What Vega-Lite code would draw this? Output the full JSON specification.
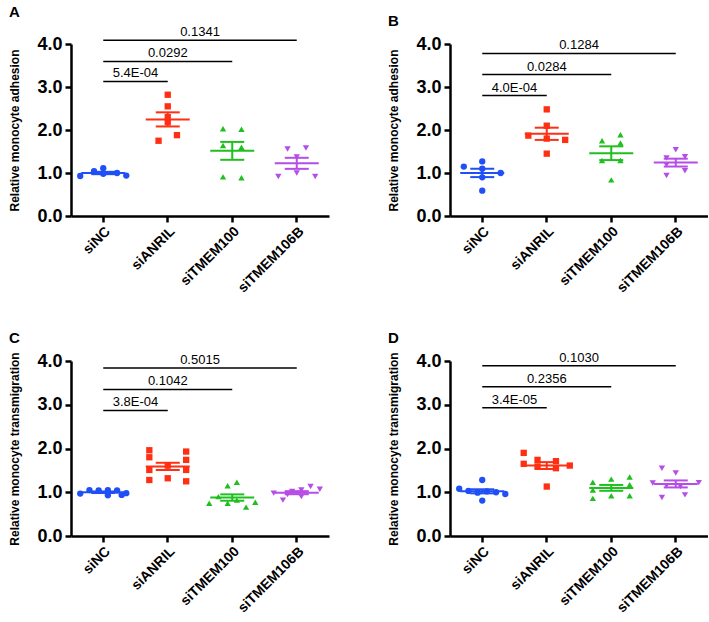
{
"$schema":"https://vega.github.io/schema/vega-lite/v6.json",
"padding":{"left":8,"top":5,"right":0,"bottom":0},
"datasets":{
"pts":[
{"p":"A","g":"siNC","v":0.93,"s":-5},{"p":"A","g":"siNC","v":1.04,"s":-2},{"p":"A","g":"siNC","v":1.11,"s":0},{"p":"A","g":"siNC","v":0.98,"s":0},{"p":"A","g":"siNC","v":1.00,"s":3},{"p":"A","g":"siNC","v":0.94,"s":5},
{"p":"A","g":"siANRIL","v":2.82,"s":0},{"p":"A","g":"siANRIL","v":2.55,"s":0},{"p":"A","g":"siANRIL","v":2.30,"s":0},{"p":"A","g":"siANRIL","v":2.18,"s":0},{"p":"A","g":"siANRIL","v":1.88,"s":2},{"p":"A","g":"siANRIL","v":1.75,"s":-2},
{"p":"A","g":"siTMEM100","v":2.03,"s":-2},{"p":"A","g":"siTMEM100","v":2.02,"s":2},{"p":"A","g":"siTMEM100","v":1.64,"s":-2},{"p":"A","g":"siTMEM100","v":1.60,"s":2},{"p":"A","g":"siTMEM100","v":0.91,"s":-2},{"p":"A","g":"siTMEM100","v":0.89,"s":2},
{"p":"A","g":"siTMEM106B","v":1.56,"s":-2},{"p":"A","g":"siTMEM106B","v":1.58,"s":2},{"p":"A","g":"siTMEM106B","v":1.37,"s":0},{"p":"A","g":"siTMEM106B","v":1.00,"s":0},{"p":"A","g":"siTMEM106B","v":0.92,"s":-4},{"p":"A","g":"siTMEM106B","v":0.92,"s":4},
{"p":"B","g":"siNC","v":1.27,"s":0},{"p":"B","g":"siNC","v":1.15,"s":-4},{"p":"B","g":"siNC","v":1.10,"s":0},{"p":"B","g":"siNC","v":1.00,"s":4},{"p":"B","g":"siNC","v":0.90,"s":0},{"p":"B","g":"siNC","v":0.59,"s":0},
{"p":"B","g":"siANRIL","v":2.48,"s":0},{"p":"B","g":"siANRIL","v":2.10,"s":0},{"p":"B","g":"siANRIL","v":1.87,"s":-4},{"p":"B","g":"siANRIL","v":1.80,"s":0},{"p":"B","g":"siANRIL","v":1.77,"s":4},{"p":"B","g":"siANRIL","v":1.45,"s":0},
{"p":"B","g":"siTMEM100","v":1.89,"s":2},{"p":"B","g":"siTMEM100","v":1.75,"s":-2},{"p":"B","g":"siTMEM100","v":1.70,"s":2},{"p":"B","g":"siTMEM100","v":1.29,"s":-2},{"p":"B","g":"siTMEM100","v":1.29,"s":2},{"p":"B","g":"siTMEM100","v":0.84,"s":0},
{"p":"B","g":"siTMEM106B","v":1.54,"s":0},{"p":"B","g":"siTMEM106B","v":1.38,"s":2},{"p":"B","g":"siTMEM106B","v":1.35,"s":-2},{"p":"B","g":"siTMEM106B","v":1.19,"s":-2},{"p":"B","g":"siTMEM106B","v":1.05,"s":2},{"p":"B","g":"siTMEM106B","v":0.94,"s":-2},
{"p":"C","g":"siNC","v":0.97,"s":-5},{"p":"C","g":"siNC","v":1.05,"s":-3},{"p":"C","g":"siNC","v":1.04,"s":-1},{"p":"C","g":"siNC","v":1.05,"s":1},{"p":"C","g":"siNC","v":0.93,"s":1},{"p":"C","g":"siNC","v":1.04,"s":3},{"p":"C","g":"siNC","v":0.94,"s":4},{"p":"C","g":"siNC","v":0.98,"s":5},
{"p":"C","g":"siANRIL","v":1.96,"s":-4},{"p":"C","g":"siANRIL","v":1.80,"s":-4},{"p":"C","g":"siANRIL","v":1.51,"s":-4},{"p":"C","g":"siANRIL","v":1.28,"s":-4},{"p":"C","g":"siANRIL","v":1.61,"s":0},{"p":"C","g":"siANRIL","v":1.32,"s":0},{"p":"C","g":"siANRIL","v":1.93,"s":4},{"p":"C","g":"siANRIL","v":1.74,"s":4},{"p":"C","g":"siANRIL","v":1.51,"s":4},{"p":"C","g":"siANRIL","v":1.25,"s":4},
{"p":"C","g":"siTMEM100","v":0.75,"s":-5},{"p":"C","g":"siTMEM100","v":0.90,"s":-3},{"p":"C","g":"siTMEM100","v":0.75,"s":-1},{"p":"C","g":"siTMEM100","v":1.15,"s":-1},{"p":"C","g":"siTMEM100","v":1.23,"s":1},{"p":"C","g":"siTMEM100","v":0.82,"s":1},{"p":"C","g":"siTMEM100","v":0.66,"s":3},{"p":"C","g":"siTMEM100","v":0.77,"s":5},
{"p":"C","g":"siTMEM106B","v":0.98,"s":-5},{"p":"C","g":"siTMEM106B","v":0.82,"s":-3},{"p":"C","g":"siTMEM106B","v":1.02,"s":-1},{"p":"C","g":"siTMEM106B","v":1.05,"s":1},{"p":"C","g":"siTMEM106B","v":0.90,"s":1},{"p":"C","g":"siTMEM106B","v":1.13,"s":3},{"p":"C","g":"siTMEM106B","v":1.07,"s":5},{"p":"C","g":"siTMEM106B","v":0.95,"s":-2},
{"p":"D","g":"siNC","v":1.28,"s":0},{"p":"D","g":"siNC","v":1.08,"s":-5},{"p":"D","g":"siNC","v":1.03,"s":-3},{"p":"D","g":"siNC","v":1.00,"s":3},{"p":"D","g":"siNC","v":0.96,"s":5},{"p":"D","g":"siNC","v":0.81,"s":0},{"p":"D","g":"siNC","v":0.99,"s":-1},{"p":"D","g":"siNC","v":1.02,"s":1},
{"p":"D","g":"siANRIL","v":1.90,"s":-5},{"p":"D","g":"siANRIL","v":1.65,"s":-5},{"p":"D","g":"siANRIL","v":1.74,"s":-2},{"p":"D","g":"siANRIL","v":1.59,"s":-2},{"p":"D","g":"siANRIL","v":1.71,"s":2},{"p":"D","g":"siANRIL","v":1.55,"s":2},{"p":"D","g":"siANRIL","v":1.61,"s":5},{"p":"D","g":"siANRIL","v":1.13,"s":0},
{"p":"D","g":"siTMEM100","v":1.23,"s":-4},{"p":"D","g":"siTMEM100","v":1.05,"s":-4},{"p":"D","g":"siTMEM100","v":0.86,"s":-4},{"p":"D","g":"siTMEM100","v":1.30,"s":0},{"p":"D","g":"siTMEM100","v":0.92,"s":0},{"p":"D","g":"siTMEM100","v":1.35,"s":4},{"p":"D","g":"siTMEM100","v":1.17,"s":4},{"p":"D","g":"siTMEM100","v":0.92,"s":4},
{"p":"D","g":"siTMEM106B","v":1.55,"s":-3},{"p":"D","g":"siTMEM106B","v":0.88,"s":-3},{"p":"D","g":"siTMEM106B","v":1.44,"s":0},{"p":"D","g":"siTMEM106B","v":1.21,"s":-5},{"p":"D","g":"siTMEM106B","v":1.15,"s":-2},{"p":"D","g":"siTMEM106B","v":1.13,"s":1},{"p":"D","g":"siTMEM106B","v":1.22,"s":5},{"p":"D","g":"siTMEM106B","v":0.94,"s":2}
],
"sig":[
{"p":"A","from":"siNC","to":"siANRIL","y":3.13,"label":"5.4E-04","mid":"siNC","edge":1},
{"p":"A","from":"siNC","to":"siTMEM100","y":3.595,"label":"0.0292","mid":"siANRIL","edge":0},
{"p":"A","from":"siNC","to":"siTMEM106B","y":4.09,"label":"0.1341","mid":"siANRIL","edge":1},
{"p":"B","from":"siNC","to":"siANRIL","y":2.80,"label":"4.0E-04","mid":"siNC","edge":1},
{"p":"B","from":"siNC","to":"siTMEM100","y":3.29,"label":"0.0284","mid":"siANRIL","edge":0},
{"p":"B","from":"siNC","to":"siTMEM106B","y":3.78,"label":"0.1284","mid":"siANRIL","edge":1},
{"p":"C","from":"siNC","to":"siANRIL","y":2.87,"label":"3.8E-04","mid":"siNC","edge":1},
{"p":"C","from":"siNC","to":"siTMEM100","y":3.35,"label":"0.1042","mid":"siANRIL","edge":0},
{"p":"C","from":"siNC","to":"siTMEM106B","y":3.84,"label":"0.5015","mid":"siANRIL","edge":1},
{"p":"D","from":"siNC","to":"siANRIL","y":2.93,"label":"3.4E-05","mid":"siNC","edge":1},
{"p":"D","from":"siNC","to":"siTMEM100","y":3.41,"label":"0.2356","mid":"siANRIL","edge":0},
{"p":"D","from":"siNC","to":"siTMEM106B","y":3.89,"label":"0.1030","mid":"siANRIL","edge":1}
]
},
"columns":2,
"spacing":{"column":58,"row":35},
"concat":[
{"width":258,"height":172,
 "title":{"text":"A","anchor":"start","frame":"bounds","fontSize":15,"fontWeight":"bold","offset":6},
 "layer":[
  {"data":{"name":"pts"},"transform":[{"filter":"datum.p=='A'"}],
   "mark":{"type":"point","filled":true,"opacity":1,"size":40},
   "encoding":{
    "x":{"field":"g","type":"nominal","scale":{"type":"band","domain":["siNC","siANRIL","siTMEM100","siTMEM106B"],"paddingInner":0,"paddingOuter":0},"axis":{"title":null,"labelAngle":-45}},
    "xOffset":{"field":"s","type":"ordinal","scale":{"domain":[-6,-5,-4,-3,-2,-1,0,1,2,3,4,5,6],"paddingInner":0,"paddingOuter":2.7}},
    "y":{"field":"v","type":"quantitative","scale":{"domain":[0,4],"nice":false},"axis":{"title":"Relative monocyte adhesion","values":[0,1,2,3,4],"format":".1f"}},
    "color":{"field":"g","type":"nominal","scale":{"domain":["siNC","siANRIL","siTMEM100","siTMEM106B"],"range":["#1f4ff5","#ff2f14","#1fbf1f","#b54de6"]},"legend":null},
    "shape":{"field":"g","type":"nominal","scale":{"domain":["siNC","siANRIL","siTMEM100","siTMEM106B"],"range":["circle","square","triangle-up","triangle-down"]},"legend":null}}},
  {"data":{"name":"pts"},"transform":[{"filter":"datum.p=='A'"},{"aggregate":[{"op":"mean","field":"v","as":"m"},{"op":"stderr","field":"v","as":"se"}],"groupby":["g"]},{"calculate":"datum.m-datum.se","as":"lo"},{"calculate":"datum.m+datum.se","as":"hi"}],
   "layer":[
    {"mark":{"type":"tick","size":44,"thickness":2,"opacity":1},"encoding":{"x":{"field":"g","type":"nominal"},"y":{"field":"m","type":"quantitative"},"color":{"field":"g","type":"nominal"}}},
    {"mark":{"type":"rule","strokeWidth":2},"encoding":{"x":{"field":"g","type":"nominal"},"y":{"field":"lo","type":"quantitative"},"y2":{"field":"hi"},"color":{"field":"g","type":"nominal"}}},
    {"mark":{"type":"tick","size":24,"thickness":2,"opacity":1},"encoding":{"x":{"field":"g","type":"nominal"},"y":{"field":"lo","type":"quantitative"},"color":{"field":"g","type":"nominal"}}},
    {"mark":{"type":"tick","size":24,"thickness":2,"opacity":1},"encoding":{"x":{"field":"g","type":"nominal"},"y":{"field":"hi","type":"quantitative"},"color":{"field":"g","type":"nominal"}}}
   ]},
  {"data":{"name":"sig"},"transform":[{"filter":"datum.p=='A'"}],"mark":{"type":"rule","strokeWidth":1.5,"color":"black"},
   "encoding":{"x":{"field":"from","type":"nominal","bandPosition":0.5},"x2":{"field":"to","bandPosition":0.5},"y":{"field":"y","type":"quantitative"}}},
  {"data":{"name":"sig"},"transform":[{"filter":"datum.p=='A' && datum.edge==1"}],"mark":{"type":"text","fontSize":13,"dy":-4,"baseline":"alphabetic","color":"black"},
   "encoding":{"x":{"field":"mid","type":"nominal","bandPosition":1},"y":{"field":"y","type":"quantitative"},"text":{"field":"label"}}},
  {"data":{"name":"sig"},"transform":[{"filter":"datum.p=='A' && datum.edge==0"}],"mark":{"type":"text","fontSize":13,"dy":-4,"baseline":"alphabetic","color":"black"},
   "encoding":{"x":{"field":"mid","type":"nominal","bandPosition":0.5},"y":{"field":"y","type":"quantitative"},"text":{"field":"label"}}}
 ]},
{"width":258,"height":172,
 "title":{"text":"B","anchor":"start","frame":"bounds","fontSize":15,"fontWeight":"bold","offset":6},
 "layer":[
  {"data":{"name":"pts"},"transform":[{"filter":"datum.p=='B'"}],
   "mark":{"type":"point","filled":true,"opacity":1,"size":40},
   "encoding":{
    "x":{"field":"g","type":"nominal","scale":{"type":"band","domain":["siNC","siANRIL","siTMEM100","siTMEM106B"],"paddingInner":0,"paddingOuter":0},"axis":{"title":null,"labelAngle":-45}},
    "xOffset":{"field":"s","type":"ordinal","scale":{"domain":[-6,-5,-4,-3,-2,-1,0,1,2,3,4,5,6],"paddingInner":0,"paddingOuter":2.7}},
    "y":{"field":"v","type":"quantitative","scale":{"domain":[0,4],"nice":false},"axis":{"title":"Relative monocyte adhesion","values":[0,1,2,3,4],"format":".1f"}},
    "color":{"field":"g","type":"nominal","scale":{"domain":["siNC","siANRIL","siTMEM100","siTMEM106B"],"range":["#1f4ff5","#ff2f14","#1fbf1f","#b54de6"]},"legend":null},
    "shape":{"field":"g","type":"nominal","scale":{"domain":["siNC","siANRIL","siTMEM100","siTMEM106B"],"range":["circle","square","triangle-up","triangle-down"]},"legend":null}}},
  {"data":{"name":"pts"},"transform":[{"filter":"datum.p=='B'"},{"aggregate":[{"op":"mean","field":"v","as":"m"},{"op":"stderr","field":"v","as":"se"}],"groupby":["g"]},{"calculate":"datum.m-datum.se","as":"lo"},{"calculate":"datum.m+datum.se","as":"hi"}],
   "layer":[
    {"mark":{"type":"tick","size":44,"thickness":2,"opacity":1},"encoding":{"x":{"field":"g","type":"nominal"},"y":{"field":"m","type":"quantitative"},"color":{"field":"g","type":"nominal"}}},
    {"mark":{"type":"rule","strokeWidth":2},"encoding":{"x":{"field":"g","type":"nominal"},"y":{"field":"lo","type":"quantitative"},"y2":{"field":"hi"},"color":{"field":"g","type":"nominal"}}},
    {"mark":{"type":"tick","size":24,"thickness":2,"opacity":1},"encoding":{"x":{"field":"g","type":"nominal"},"y":{"field":"lo","type":"quantitative"},"color":{"field":"g","type":"nominal"}}},
    {"mark":{"type":"tick","size":24,"thickness":2,"opacity":1},"encoding":{"x":{"field":"g","type":"nominal"},"y":{"field":"hi","type":"quantitative"},"color":{"field":"g","type":"nominal"}}}
   ]},
  {"data":{"name":"sig"},"transform":[{"filter":"datum.p=='B'"}],"mark":{"type":"rule","strokeWidth":1.5,"color":"black"},
   "encoding":{"x":{"field":"from","type":"nominal","bandPosition":0.5},"x2":{"field":"to","bandPosition":0.5},"y":{"field":"y","type":"quantitative"}}},
  {"data":{"name":"sig"},"transform":[{"filter":"datum.p=='B' && datum.edge==1"}],"mark":{"type":"text","fontSize":13,"dy":-4,"baseline":"alphabetic","color":"black"},
   "encoding":{"x":{"field":"mid","type":"nominal","bandPosition":1},"y":{"field":"y","type":"quantitative"},"text":{"field":"label"}}},
  {"data":{"name":"sig"},"transform":[{"filter":"datum.p=='B' && datum.edge==0"}],"mark":{"type":"text","fontSize":13,"dy":-4,"baseline":"alphabetic","color":"black"},
   "encoding":{"x":{"field":"mid","type":"nominal","bandPosition":0.5},"y":{"field":"y","type":"quantitative"},"text":{"field":"label"}}}
 ]},
{"width":258,"height":175,
 "title":{"text":"C","anchor":"start","frame":"bounds","fontSize":15,"fontWeight":"bold","offset":6},
 "layer":[
  {"data":{"name":"pts"},"transform":[{"filter":"datum.p=='C'"}],
   "mark":{"type":"point","filled":true,"opacity":1,"size":40},
   "encoding":{
    "x":{"field":"g","type":"nominal","scale":{"type":"band","domain":["siNC","siANRIL","siTMEM100","siTMEM106B"],"paddingInner":0,"paddingOuter":0},"axis":{"title":null,"labelAngle":-45}},
    "xOffset":{"field":"s","type":"ordinal","scale":{"domain":[-6,-5,-4,-3,-2,-1,0,1,2,3,4,5,6],"paddingInner":0,"paddingOuter":2.7}},
    "y":{"field":"v","type":"quantitative","scale":{"domain":[0,4],"nice":false},"axis":{"title":"Relative monocyte transmigration","values":[0,1,2,3,4],"format":".1f"}},
    "color":{"field":"g","type":"nominal","scale":{"domain":["siNC","siANRIL","siTMEM100","siTMEM106B"],"range":["#1f4ff5","#ff2f14","#1fbf1f","#b54de6"]},"legend":null},
    "shape":{"field":"g","type":"nominal","scale":{"domain":["siNC","siANRIL","siTMEM100","siTMEM106B"],"range":["circle","square","triangle-up","triangle-down"]},"legend":null}}},
  {"data":{"name":"pts"},"transform":[{"filter":"datum.p=='C'"},{"aggregate":[{"op":"mean","field":"v","as":"m"},{"op":"stderr","field":"v","as":"se"}],"groupby":["g"]},{"calculate":"datum.m-datum.se","as":"lo"},{"calculate":"datum.m+datum.se","as":"hi"}],
   "layer":[
    {"mark":{"type":"tick","size":44,"thickness":2,"opacity":1},"encoding":{"x":{"field":"g","type":"nominal"},"y":{"field":"m","type":"quantitative"},"color":{"field":"g","type":"nominal"}}},
    {"mark":{"type":"rule","strokeWidth":2},"encoding":{"x":{"field":"g","type":"nominal"},"y":{"field":"lo","type":"quantitative"},"y2":{"field":"hi"},"color":{"field":"g","type":"nominal"}}},
    {"mark":{"type":"tick","size":24,"thickness":2,"opacity":1},"encoding":{"x":{"field":"g","type":"nominal"},"y":{"field":"lo","type":"quantitative"},"color":{"field":"g","type":"nominal"}}},
    {"mark":{"type":"tick","size":24,"thickness":2,"opacity":1},"encoding":{"x":{"field":"g","type":"nominal"},"y":{"field":"hi","type":"quantitative"},"color":{"field":"g","type":"nominal"}}}
   ]},
  {"data":{"name":"sig"},"transform":[{"filter":"datum.p=='C'"}],"mark":{"type":"rule","strokeWidth":1.5,"color":"black"},
   "encoding":{"x":{"field":"from","type":"nominal","bandPosition":0.5},"x2":{"field":"to","bandPosition":0.5},"y":{"field":"y","type":"quantitative"}}},
  {"data":{"name":"sig"},"transform":[{"filter":"datum.p=='C' && datum.edge==1"}],"mark":{"type":"text","fontSize":13,"dy":-4,"baseline":"alphabetic","color":"black"},
   "encoding":{"x":{"field":"mid","type":"nominal","bandPosition":1},"y":{"field":"y","type":"quantitative"},"text":{"field":"label"}}},
  {"data":{"name":"sig"},"transform":[{"filter":"datum.p=='C' && datum.edge==0"}],"mark":{"type":"text","fontSize":13,"dy":-4,"baseline":"alphabetic","color":"black"},
   "encoding":{"x":{"field":"mid","type":"nominal","bandPosition":0.5},"y":{"field":"y","type":"quantitative"},"text":{"field":"label"}}}
 ]},
{"width":258,"height":175,
 "title":{"text":"D","anchor":"start","frame":"bounds","fontSize":15,"fontWeight":"bold","offset":6},
 "layer":[
  {"data":{"name":"pts"},"transform":[{"filter":"datum.p=='D'"}],
   "mark":{"type":"point","filled":true,"opacity":1,"size":40},
   "encoding":{
    "x":{"field":"g","type":"nominal","scale":{"type":"band","domain":["siNC","siANRIL","siTMEM100","siTMEM106B"],"paddingInner":0,"paddingOuter":0},"axis":{"title":null,"labelAngle":-45}},
    "xOffset":{"field":"s","type":"ordinal","scale":{"domain":[-6,-5,-4,-3,-2,-1,0,1,2,3,4,5,6],"paddingInner":0,"paddingOuter":2.7}},
    "y":{"field":"v","type":"quantitative","scale":{"domain":[0,4],"nice":false},"axis":{"title":"Relative monocyte transmigration","values":[0,1,2,3,4],"format":".1f"}},
    "color":{"field":"g","type":"nominal","scale":{"domain":["siNC","siANRIL","siTMEM100","siTMEM106B"],"range":["#1f4ff5","#ff2f14","#1fbf1f","#b54de6"]},"legend":null},
    "shape":{"field":"g","type":"nominal","scale":{"domain":["siNC","siANRIL","siTMEM100","siTMEM106B"],"range":["circle","square","triangle-up","triangle-down"]},"legend":null}}},
  {"data":{"name":"pts"},"transform":[{"filter":"datum.p=='D'"},{"aggregate":[{"op":"mean","field":"v","as":"m"},{"op":"stderr","field":"v","as":"se"}],"groupby":["g"]},{"calculate":"datum.m-datum.se","as":"lo"},{"calculate":"datum.m+datum.se","as":"hi"}],
   "layer":[
    {"mark":{"type":"tick","size":44,"thickness":2,"opacity":1},"encoding":{"x":{"field":"g","type":"nominal"},"y":{"field":"m","type":"quantitative"},"color":{"field":"g","type":"nominal"}}},
    {"mark":{"type":"rule","strokeWidth":2},"encoding":{"x":{"field":"g","type":"nominal"},"y":{"field":"lo","type":"quantitative"},"y2":{"field":"hi"},"color":{"field":"g","type":"nominal"}}},
    {"mark":{"type":"tick","size":24,"thickness":2,"opacity":1},"encoding":{"x":{"field":"g","type":"nominal"},"y":{"field":"lo","type":"quantitative"},"color":{"field":"g","type":"nominal"}}},
    {"mark":{"type":"tick","size":24,"thickness":2,"opacity":1},"encoding":{"x":{"field":"g","type":"nominal"},"y":{"field":"hi","type":"quantitative"},"color":{"field":"g","type":"nominal"}}}
   ]},
  {"data":{"name":"sig"},"transform":[{"filter":"datum.p=='D'"}],"mark":{"type":"rule","strokeWidth":1.5,"color":"black"},
   "encoding":{"x":{"field":"from","type":"nominal","bandPosition":0.5},"x2":{"field":"to","bandPosition":0.5},"y":{"field":"y","type":"quantitative"}}},
  {"data":{"name":"sig"},"transform":[{"filter":"datum.p=='D' && datum.edge==1"}],"mark":{"type":"text","fontSize":13,"dy":-4,"baseline":"alphabetic","color":"black"},
   "encoding":{"x":{"field":"mid","type":"nominal","bandPosition":1},"y":{"field":"y","type":"quantitative"},"text":{"field":"label"}}},
  {"data":{"name":"sig"},"transform":[{"filter":"datum.p=='D' && datum.edge==0"}],"mark":{"type":"text","fontSize":13,"dy":-4,"baseline":"alphabetic","color":"black"},
   "encoding":{"x":{"field":"mid","type":"nominal","bandPosition":0.5},"y":{"field":"y","type":"quantitative"},"text":{"field":"label"}}}
 ]}
],
"config":{
 "font":"Liberation Sans",
 "view":{"stroke":null},
 "title":{"font":"Liberation Sans","color":"black"},
 "axis":{"grid":false,"domainColor":"black","domainWidth":2.5,"tickColor":"black","tickWidth":2.5,"tickSize":6,"labelColor":"black","labelFont":"Liberation Sans","labelFontWeight":"bold","labelPadding":3,"titleFont":"Liberation Sans","titleFontSize":12,"titleFontWeight":"bold","titleColor":"black","titlePadding":15},
 "axisY":{"labelFontSize":18},
 "axisX":{"labelFontSize":14,"labelPadding":2}
}
}
